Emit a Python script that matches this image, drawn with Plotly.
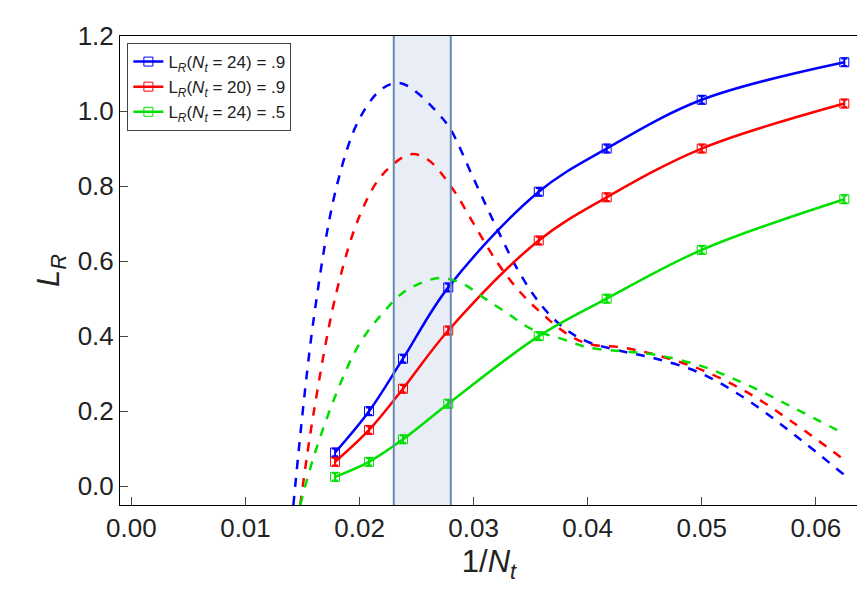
import plotly.graph_objects as go

x_pts = [1/56, 1/48, 1/42, 1/36, 1/28, 1/24, 1/20, 1/16]
blue_pts = [0.09, 0.20, 0.34, 0.53, 0.785, 0.90, 1.03, 1.13]
red_pts = [0.065, 0.15, 0.26, 0.415, 0.655, 0.77, 0.90, 1.02]
green_pts = [0.025, 0.065, 0.125, 0.22, 0.40, 0.50, 0.63, 0.765]

blue_dx = [0.0142, 0.016, 0.018, 0.020, 0.022, 0.0235, 0.025, 0.027, 0.028, 0.030, 0.032, 0.034, 0.036, 0.038, 0.040, 0.043, 0.046, 0.050, 0.054, 0.058, 0.0625]
blue_dy = [-0.05, 0.45, 0.80, 0.98, 1.06, 1.075, 1.05, 0.99, 0.95, 0.82, 0.69, 0.57, 0.48, 0.42, 0.385, 0.36, 0.34, 0.30, 0.23, 0.14, 0.03]
red_dx = [0.0148, 0.016, 0.018, 0.020, 0.022, 0.0245, 0.026, 0.028, 0.030, 0.032, 0.034, 0.036, 0.038, 0.040, 0.043, 0.046, 0.050, 0.054, 0.058, 0.0625]
red_dy = [-0.05, 0.20, 0.52, 0.72, 0.83, 0.885, 0.87, 0.80, 0.70, 0.60, 0.52, 0.46, 0.41, 0.38, 0.37, 0.35, 0.31, 0.25, 0.17, 0.07]
green_dx = [0.0148, 0.016, 0.018, 0.020, 0.022, 0.024, 0.027, 0.029, 0.031, 0.033, 0.035, 0.038, 0.040, 0.043, 0.046, 0.050, 0.054, 0.058, 0.0625]
green_dy = [-0.05, 0.08, 0.25, 0.38, 0.46, 0.52, 0.555, 0.54, 0.50, 0.46, 0.42, 0.39, 0.37, 0.36, 0.35, 0.32, 0.27, 0.21, 0.14]

series = [
    ("L<sub><i>R</i></sub>(<i>N<sub>t</sub></i> = 24) = .9", "#0000ff", blue_pts, blue_dx, blue_dy),
    ("L<sub><i>R</i></sub>(<i>N<sub>t</sub></i> = 20) = .9", "#ff0000", red_pts, red_dx, red_dy),
    ("L<sub><i>R</i></sub>(<i>N<sub>t</sub></i> = 24) = .5", "#00e000", green_pts, green_dx, green_dy),
]

fig = go.Figure()
for name, col, pts, dx, dy in series:
    fig.add_trace(go.Scatter(x=dx, y=dy, mode="lines", line=dict(color=col, width=2.5, dash="dash", shape="spline"),
                             showlegend=False))
    fig.add_trace(go.Scatter(x=x_pts, y=pts, mode="lines+markers", name=name,
                             line=dict(color=col, width=2.5, shape="spline"),
                             marker=dict(symbol="square-open", size=9, color=col),
                             error_y=dict(type="constant", value=0.01, color=col, width=3)))

fig.add_vrect(x0=0.023, x1=0.028, fillcolor="rgba(200,210,230,0.4)", line_width=0, layer="below")
for xv in [0.023, 0.028]:
    fig.add_vline(x=xv, line=dict(color="#6a8ab0", width=2))

fig.update_layout(
    width=865, height=594, plot_bgcolor="white", paper_bgcolor="white",
    margin=dict(l=112, r=15, t=28, b=97),
    font=dict(family="Liberation Sans", size=26, color="#222"),
    legend=dict(x=0.01, y=0.985, bgcolor="white", bordercolor="#444", borderwidth=1, font=dict(size=17)),
    xaxis=dict(title=dict(text="1/<i>N<sub>t</sub></i>", standoff=8), range=[-0.001, 0.0637], tickvals=[0, 0.01, 0.02, 0.03, 0.04, 0.05, 0.06],
               tickformat=".2f", showgrid=False, zeroline=False, showline=True, mirror=True, linecolor="black",
               ticks="inside", ticklen=8),
    yaxis=dict(title=dict(text="<i>L<sub>R</sub></i>", standoff=8), range=[-0.05, 1.2], tickvals=[0, 0.2, 0.4, 0.6, 0.8, 1.0, 1.2],
               tickformat=".1f", showgrid=False, zeroline=False, showline=True, mirror=True, linecolor="black",
               ticks="inside", ticklen=8),
)
fig.write_html("out.html")
